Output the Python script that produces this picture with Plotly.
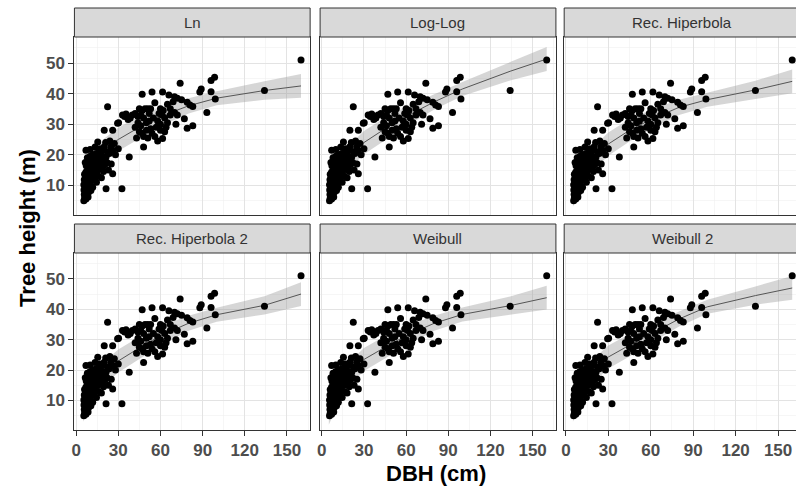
import plotly.graph_objects as go

W, H = 796, 486
OFF = 0  # body margin removed via post_script

# ---- data ----
dbh = [5.5,6.0,6.5,7.0,5.8,6.8,7.5,8.5,9.0,5.6,6.2,7.2,8.0,10.5,11.8,5.5,6.4,7.3,8.3,9.5,10.2,5.8,6.6,7.8,8.8,9.8,11.0,12.5,
       6.0,7.0,8.4,9.5,10.8,11.8,12.8,13.5,14.2,15.5,16.5,17.5,18.9,7.2,8.6,9.8,11.0,12.2,13.5,14.2,15.2,16.5,17.8,18.9,
       18.9,20.0,21.3,22.0,23.6,24.8,26.0,26.0,27.2,21.3,32.6,7.0,10.0,12.0,15.4,20.0,26.0,22.4,29.5,11.5,13.0,10.0,16.0,
       19.5,20.5,18.0,14.5,9.0,12.0,17.0,22.5,25.0,23.0,19.0,21.0,24.0,8.0,6.5,13.5,17.0,30.0,28.0,
       33.0,34.5,35.5,30.2,37.8,37.0,38.5,40.0,42.0,44.0,46.0,47.0,49.0,51.0,53.0,48.0,52.0,55.0,58.0,60.0,61.0,62.0,63.0,
       60.0,57.0,53.0,50.0,47.0,45.0,48.0,51.0,54.0,56.0,58.0,61.5,60.0,64.0,46.0,44.0,42.0,43.0,48.0,65.0,67.0,72.0,71.0,
       61.5,54.0,47.0,66.0,70.0,72.0,75.0,69.0,65.0,79.0,81.0,83.0,70.0,67.0,77.0,79.0,83.0,74.0,89.0,88.0,96.0,98.5,96.0,
       99.0,93.0,134.0,160.0,56.0,50.0,45.0,52.0,59.0,63.0]
height = [5.0,5.8,6.5,5.5,7.0,7.5,8.0,6.2,7.8,8.5,9.2,9.6,9.0,8.3,9.4,10.2,10.8,11.4,11.0,10.5,10.0,11.8,12.5,13.0,12.2,12.8,11.6,12.0,
          13.6,14.4,14.8,15.5,14.0,16.0,15.2,13.8,16.6,15.0,17.1,16.0,16.0,16.4,17.2,18.0,17.5,18.6,19.2,20.4,18.5,21.0,19.5,18.2,
          21.5,22.6,19.3,17.5,20.4,22.6,21.5,13.8,23.7,8.9,8.9,21.5,21.7,20.0,24.2,28.0,28.0,35.7,30.3,13.2,17.0,19.5,13.0,
          14.5,16.8,12.5,11.0,16.0,14.5,18.0,21.0,17.0,15.0,19.5,24.0,24.5,19.0,17.5,22.5,22.0,22.0,20.0,
          33.0,32.5,33.3,30.5,19.3,31.5,32.0,33.0,33.5,32.5,33.0,34.5,35.0,35.0,35.0,32.0,31.0,32.0,31.0,30.0,33.0,34.5,32.0,
          35.0,29.0,28.5,28.0,27.0,27.5,26.0,25.5,27.0,26.0,24.5,25.3,28.0,29.0,29.5,30.5,29.0,25.5,22.5,30.5,35.0,33.0,30.0,
          40.5,40.5,39.8,39.5,39.0,38.5,38.0,37.3,36.5,37.2,36.3,35.8,33.8,33.0,31.8,28.7,29.5,43.4,41.5,40.5,44.3,45.3,40.6,
          38.2,33.8,41.0,51.0,37.0,30.5,35.0,33.5,33.5,27.5]

models = ["Ln", "Log-Log", "Rec. Hiperbola", "Rec. Hiperbola 2", "Weibull", "Weibull 2"]
fit_dbh = [5, 10, 20, 30, 45, 60, 80, 100, 134, 160]
fit_ln     = [9.0, 14.0, 21.5, 25.0, 29.0, 32.5, 36.0, 38.5, 41.0, 42.5]
fit_loglog = [8.0, 12.5, 19.5, 24.0, 28.5, 32.5, 37.3, 41.5, 47.3, 51.3]
fit_rh     = [7.0, 12.0, 19.0, 23.5, 28.0, 31.5, 35.5, 38.0, 41.2, 44.0]
fit_rh2    = [7.0, 12.0, 19.0, 23.0, 27.3, 31.3, 35.4, 38.2, 41.3, 45.0]
fit_wb     = [6.0, 11.0, 19.0, 23.5, 27.5, 31.3, 35.4, 38.3, 41.2, 43.8]
fit_wb2    = [7.0, 12.0, 20.0, 24.3, 28.2, 32.0, 36.8, 40.8, 44.5, 47.0]
half_band  = [4.0, 3.8, 3.8, 3.8, 3.7, 3.2, 2.5, 2.3, 3.0, 3.9]
fits = [fit_ln, fit_loglog, fit_rh, fit_rh2, fit_wb, fit_wb2]

x_ticks = [0, 30, 60, 90, 120, 150]
y_ticks = [10, 20, 30, 40, 50]

# ---- layout geometry (window pixels) ----
cols_px = [(71.7, 308.3), (318.3, 555.0), (563.3, 796.0)]
col_scale = [1.411, 1.411, 1.42]
rows_px = [(37.0, 215.0), (253.0, 430.0)]
strips_px = [(8.0, 37.0), (224.0, 253.0)]
x0 = -1.2
FONT = "Liberation Sans, Arial"

def fx(p):
    return (p - OFF) / W

def fy(p):
    return 1 - (p - OFF) / H

fig = go.Figure()
layout = dict(width=W, height=H, margin=dict(l=0, r=0, t=0, b=0),
              paper_bgcolor="white", plot_bgcolor="white", showlegend=False)
shapes, annotations = [], []

for i, name in enumerate(models):
    r, c = divmod(i, 3)
    idx = i + 1
    xa = "x" if idx == 1 else f"x{idx}"
    ya = "y" if idx == 1 else f"y{idx}"
    xl, xr = cols_px[c]
    yt, yb = rows_px[r]
    fv = fits[i]
    lo = [f - h for f, h in zip(fv, half_band)]
    hi = [f + h for f, h in zip(fv, half_band)]
    fig.add_trace(go.Scatter(x=fit_dbh + fit_dbh[::-1], y=hi + lo[::-1], fill="toself",
                             fillcolor="rgba(153,153,153,0.4)", line=dict(width=0),
                             mode="lines", hoverinfo="skip", xaxis=xa, yaxis=ya))
    fig.add_trace(go.Scatter(x=fit_dbh, y=fv, mode="lines",
                             line=dict(color="#555555", width=1), xaxis=xa, yaxis=ya))
    fig.add_trace(go.Scatter(x=dbh, y=height, mode="markers", cliponaxis=False,
                             marker=dict(color="black", size=7), xaxis=xa, yaxis=ya))

    bottom = (r == 1)
    left = (c == 0)
    x_end = min(xr, OFF + W)
    xrange = [x0, x0 + (x_end - xl) / col_scale[c]]
    key_x = "xaxis" if idx == 1 else f"xaxis{idx}"
    key_y = "yaxis" if idx == 1 else f"yaxis{idx}"
    layout[key_x] = dict(domain=[fx(xl), min(fx(x_end), 1.0)], range=xrange, anchor=ya,
                         tickvals=x_ticks, showticklabels=bottom,
                         ticks="outside" if bottom else "", ticklen=5, tickcolor="#333333",
                         tickfont=dict(family=FONT, size=17, color="#4D4D4D", weight="bold"),
                         showgrid=True, gridcolor="#E3E3E3", gridwidth=1,
                         minor=dict(dtick=30, tick0=15, showgrid=True, gridcolor="#F0F0F0", gridwidth=0.6),
                         showline=True, linecolor="#333333", linewidth=1, mirror=True,
                         zeroline=False, fixedrange=True)
    layout[key_y] = dict(domain=[fy(yb), fy(yt)], range=[0.3, 58.5], anchor=xa,
                         tickvals=y_ticks, showticklabels=left,
                         ticks="outside" if left else "", ticklen=5, tickcolor="#333333",
                         tickfont=dict(family=FONT, size=17, color="#4D4D4D", weight="bold"),
                         showgrid=True, gridcolor="#E3E3E3", gridwidth=1,
                         minor=dict(dtick=10, tick0=5, showgrid=True, gridcolor="#F0F0F0", gridwidth=0.6),
                         showline=True, linecolor="#333333", linewidth=1, mirror=(c != 2),
                         zeroline=False, fixedrange=True)
    st, sb = strips_px[r]
    shapes.append(dict(type="rect", xref="paper", yref="paper",
                       x0=fx(xl), x1=fx(xr) if c != 2 else 1.05,
                       y0=fy(sb), y1=fy(st),
                       fillcolor="#D9D9D9", line=dict(color="#333333", width=1), layer="above"))
    annotations.append(dict(text=name, xref="paper", yref="paper",
                            x=fx(xl + 118.3), y=fy((st + sb) / 2), showarrow=False,
                            font=dict(family=FONT, size=15, color="#333333"),
                            xanchor="center", yanchor="middle"))

annotations.append(dict(text="<b>DBH (cm)</b>", xref="paper", yref="paper", x=fx(435), y=fy(473),
                        showarrow=False, font=dict(family=FONT, size=22, color="black"),
                        xanchor="center", yanchor="middle"))
annotations.append(dict(text="<b>Tree height (m)</b>", xref="paper", yref="paper", x=fx(24), y=fy(228),
                        showarrow=False, textangle=-90,
                        font=dict(family=FONT, size=22, color="black"),
                        xanchor="center", yanchor="middle"))
layout["shapes"] = shapes
layout["annotations"] = annotations
fig.update_layout(**layout)
fig.write_html("out.html", config={"displayModeBar": False, "staticPlot": True},
               post_script="document.body.style.margin='0px';document.body.style.overflow='hidden';")
